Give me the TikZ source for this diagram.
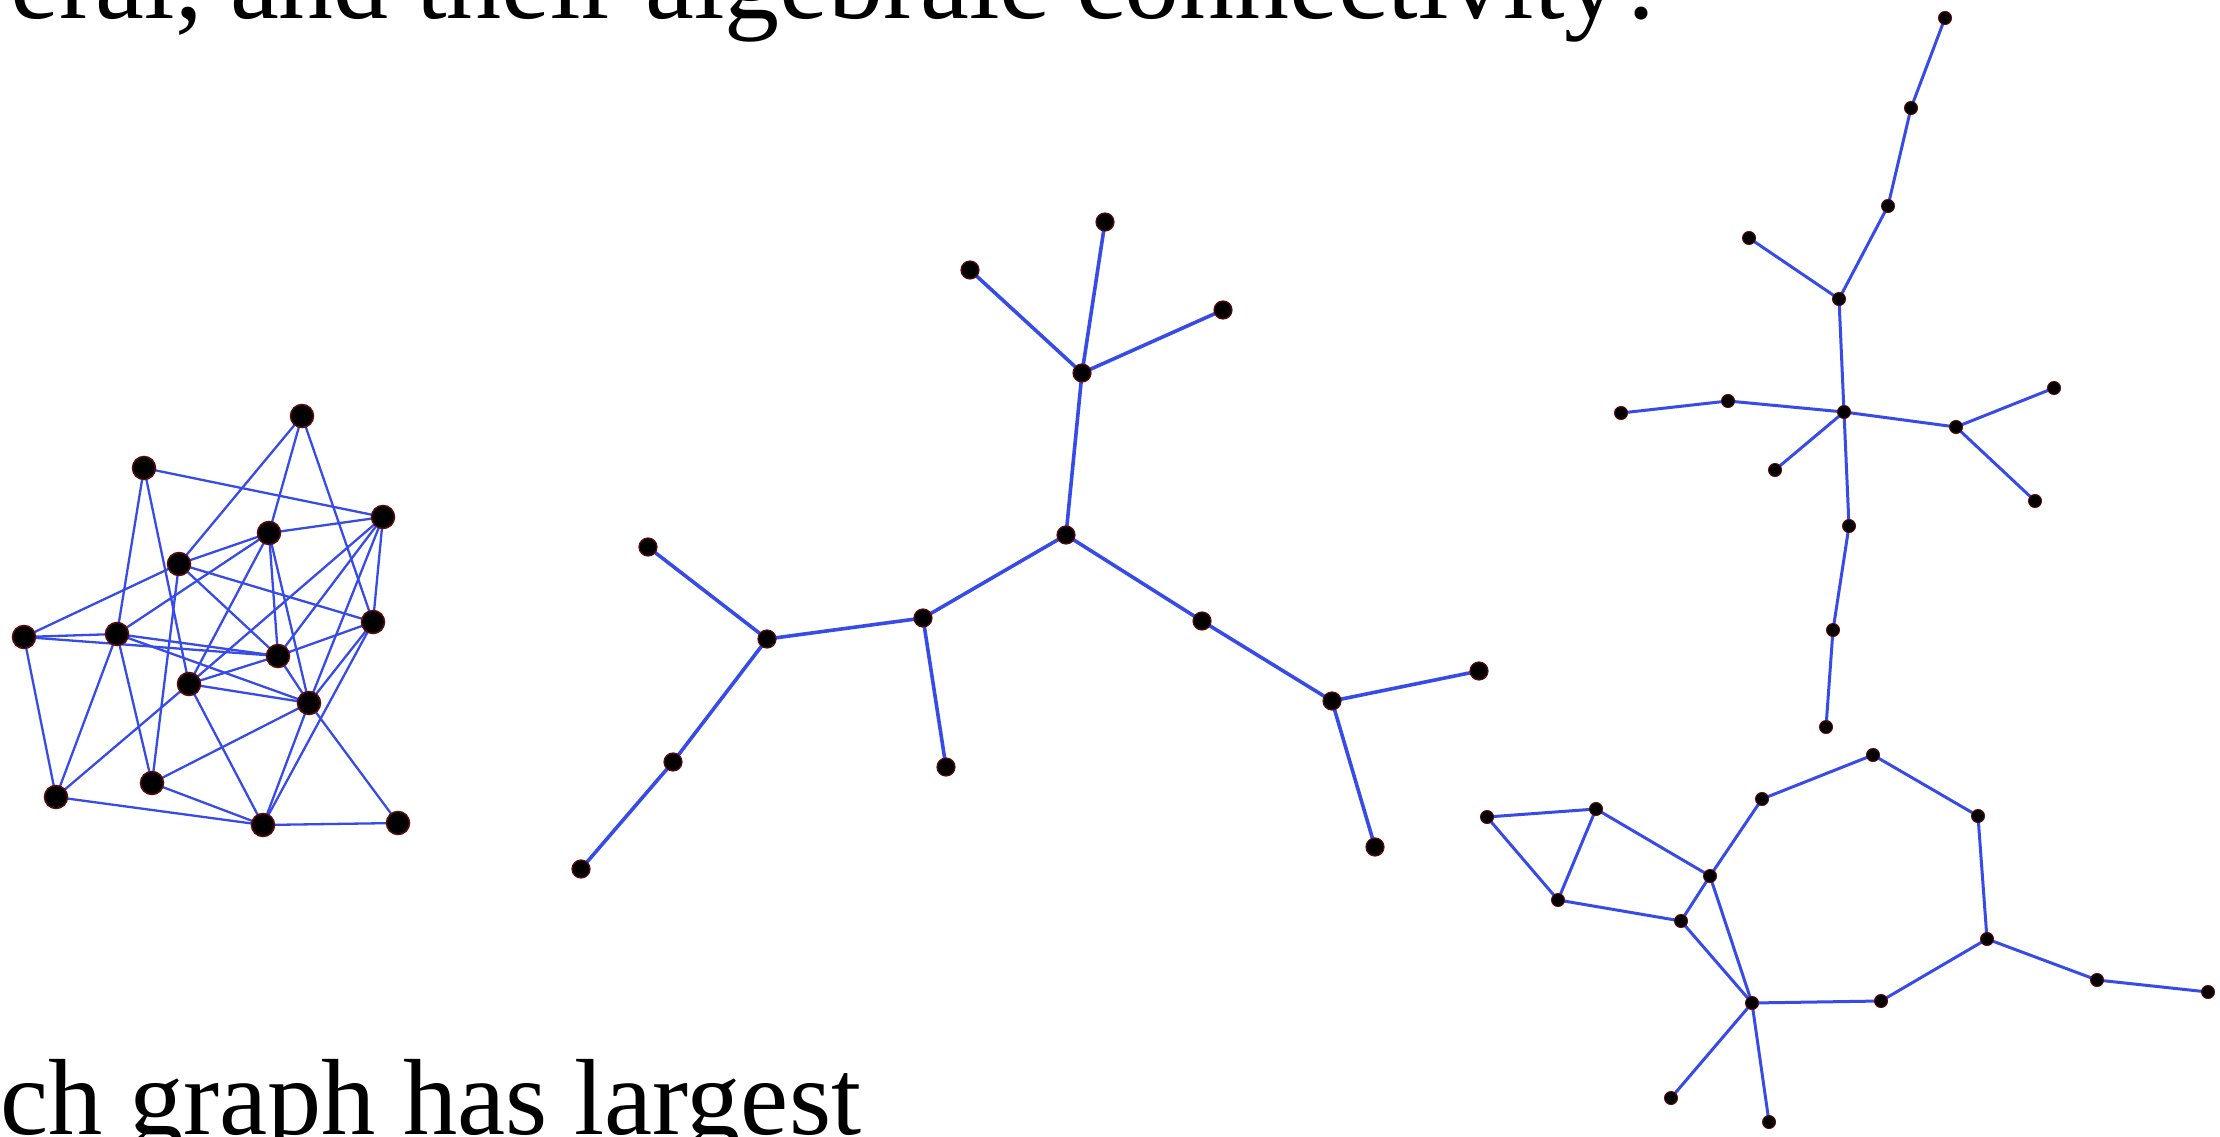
\documentclass[tikz,border=0pt]{standalone}
\usepackage{fontspec}
\setmainfont{Liberation Serif}
\usepackage{graphicx}
\definecolor{edgeblue}{RGB}{55,75,230}
\definecolor{rimred}{RGB}{95,10,10}
\begin{document}
\begin{tikzpicture}[x=1pt,y=-1pt,
  gdot/.style={circle,fill=black,draw=rimred,line width=1.5pt,inner sep=0pt,minimum size=23pt},
  mdot/.style={circle,fill=black,draw=rimred,line width=1.2pt,inner sep=0pt,minimum size=18pt},
  sdot/.style={circle,fill=black,draw=rimred,line width=1pt,inner sep=0pt,minimum size=13pt},
  ledge/.style={draw=edgeblue,line width=2.3pt},
  medge/.style={draw=edgeblue,line width=3.6pt},
  sedge/.style={draw=edgeblue,line width=3pt},
  txt/.style={inner sep=0pt,anchor=base west}]
\useasboundingbox (0,0) rectangle (2220,1137);

% ---------- text ----------
\node[txt] (toptext) at (10,19) {\resizebox{1658pt}{!}{\fontsize{110}{120}\selectfont eral, and their algebraic connectivity?}};
\node[txt] (bottext) at (0,1134) {\resizebox{861pt}{!}{\fontsize{110}{120}\selectfont ch graph has largest}};

% ---------- left graph ----------
\foreach \n/\x/\y in {la/302/416, lb/144/468, lc/383/517, ld/269/533, le/179/564,
  lf/373/622, lg/24/637, lh/117/634, li/278/656, lj/189/684, lk/309/703,
  ll/152/783, lm/56/797, ln/263/825, lo/398/823}
  \coordinate (\n) at (\x,\y);
\foreach \a/\b in {la/ld, la/le, la/lf, lb/lc, lb/lh, lb/lj, lc/ld, lc/lf, lc/li, lc/lk, lc/lj,
  ld/le, ld/lh, ld/li, ld/lj, ld/lk, le/lg, le/lf, le/li, le/ll, lf/li, lf/lk, lf/ln,
  lg/lh, lg/li, lg/lm, lh/li, lh/lk, lh/ll, lh/lm, li/lj, li/lk, lj/lk, lj/lm, lj/ln,
  lk/ll, lk/ln, lk/lo, ll/ln, lm/ln, ln/lo}
  \draw[ledge] (\a) -- (\b);
\foreach \n in {la,lb,lc,ld,le,lf,lg,lh,li,lj,lk,ll,lm,ln,lo}
  \node[gdot] (n\n) at (\n) {};

% ---------- middle tree ----------
\foreach \n/\x/\y in {m1/1105/222, m2/970/270, m3/1223/310, m4/1082/373, m5/1066/535,
  m6/923/618, m7/767/639, m8/648/547, m9/673/762, m10/581/869, m11/946/767,
  m12/1202/621, m13/1332/701, m14/1479/671, m15/1375/847}
  \coordinate (\n) at (\x,\y);
\foreach \a/\b in {m1/m4, m2/m4, m3/m4, m4/m5, m5/m6, m5/m12, m6/m7, m6/m11, m7/m8,
  m7/m9, m9/m10, m12/m13, m13/m14, m13/m15}
  \draw[medge] (\a) -- (\b);
\foreach \n in {m1,m2,m3,m4,m5,m6,m7,m8,m9,m10,m11,m12,m13,m14,m15}
  \node[mdot] (n\n) at (\n) {};

% ---------- right top tree ----------
\foreach \n/\x/\y in {r1/1945/18, r2/1911/108, r3/1888/206, r4/1749/238, r5/1839/299,
  r6/1844/412, r7/1621/413, r8/1728/401, r9/1775/470, r10/1956/427, r11/2054/388,
  r12/2035/501, r13/1849/526, r14/1833/630, r15/1826/727}
  \coordinate (\n) at (\x,\y);
\foreach \a/\b in {r1/r2, r2/r3, r3/r5, r4/r5, r5/r6, r7/r8, r8/r6, r6/r9, r6/r10,
  r10/r11, r10/r12, r6/r13, r13/r14, r14/r15}
  \draw[sedge] (\a) -- (\b);
\foreach \n in {r1,r2,r3,r4,r5,r6,r7,r8,r9,r10,r11,r12,r13,r14,r15}
  \node[sdot] (n\n) at (\n) {};

% ---------- bottom right graph ----------
\foreach \n/\x/\y in {b1/1487/817, b2/1596/809, b3/1558/900, b4/1681/921, b5/1710/876,
  b6/1762/799, b7/1873/755, b8/1978/816, b9/1987/939, b10/2097/980, b11/2208/992,
  b12/1881/1001, b13/1752/1003, b14/1671/1098, b15/1769/1122}
  \coordinate (\n) at (\x,\y);
\foreach \a/\b in {b1/b2, b1/b3, b2/b3, b2/b5, b3/b4, b4/b5, b5/b6, b6/b7, b7/b8,
  b8/b9, b9/b10, b10/b11, b9/b12, b12/b13, b13/b4, b13/b5, b13/b14, b13/b15}
  \draw[sedge] (\a) -- (\b);
\foreach \n in {b1,b2,b3,b4,b5,b6,b7,b8,b9,b10,b11,b12,b13,b14,b15}
  \node[sdot] (n\n) at (\n) {};
\end{tikzpicture}
\end{document}
